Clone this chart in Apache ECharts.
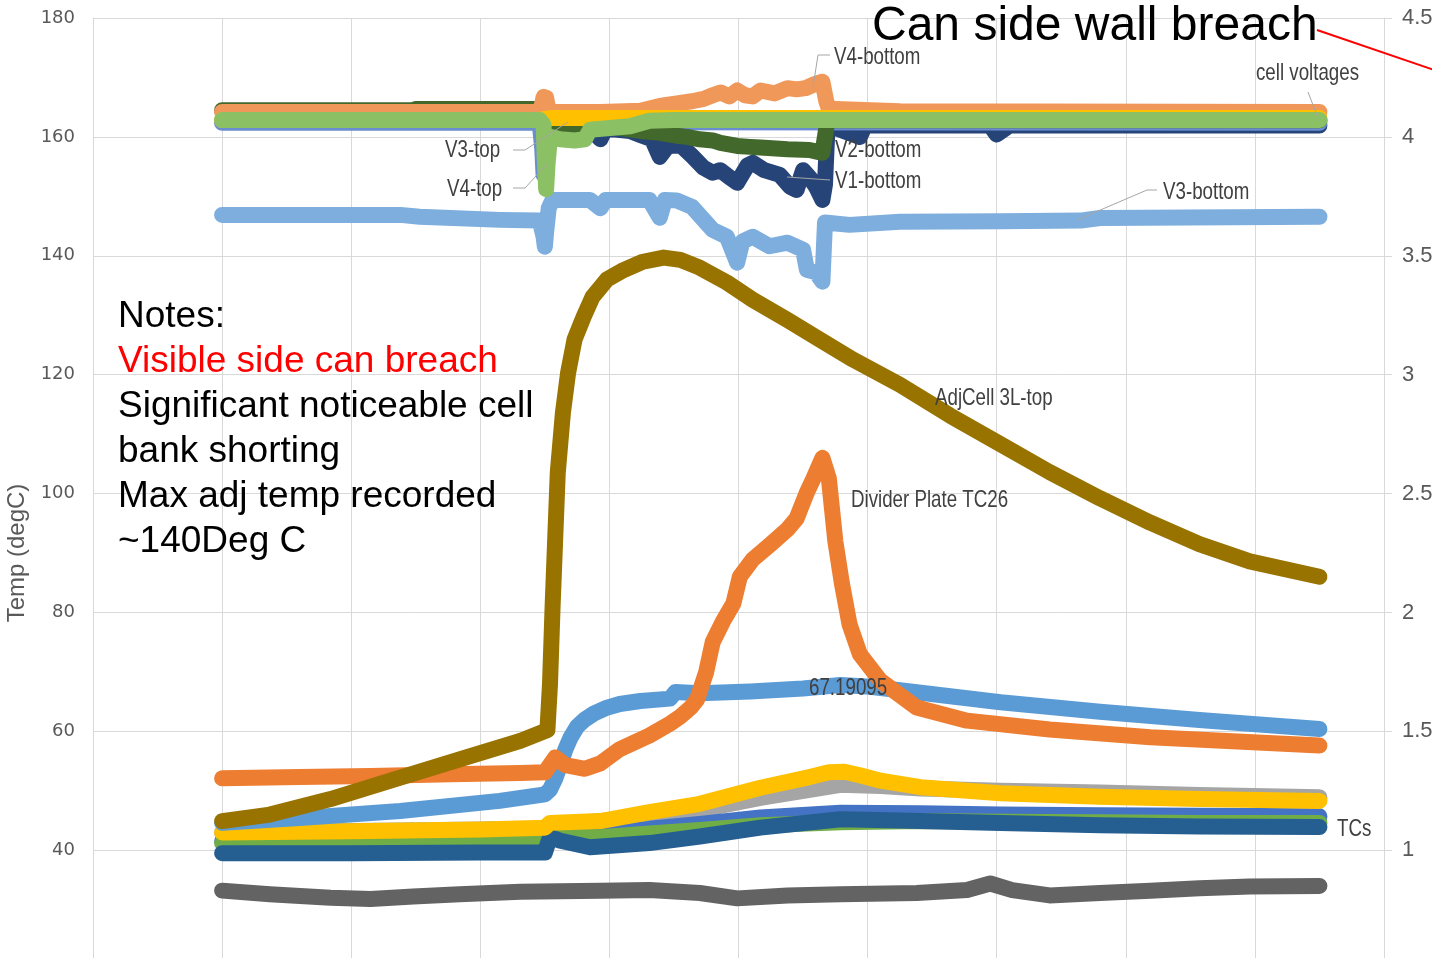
<!DOCTYPE html>
<html>
<head>
<meta charset="utf-8">
<script src="https://cdn.jsdelivr.net/npm/echarts@6/dist/echarts.min.js"></script>
<style>html,body{margin:0;padding:0;background:#fff}#c{width:1432px;height:958px}</style>
</head>
<body>
<div id="c"></div>
<script>
// ---------- tick labels ----------
const tempTicks = [0, 20, 40, 60, 80, 100, 120, 140, 160, 180];
const voltTicks = [0, 0.5, 1, 1.5, 2, 2.5, 3, 3.5, 4, 4.5];

// ---------- temperature series (left axis, degC) : [time, value] ----------
const adjCell3LTop = [[1.00,44.9],[1.37,46.0],[1.84,48.6],[2.38,52.2],[2.84,55.3],[3.31,58.4],[3.52,60.2],[3.54,68.0],[3.56,81.0],[3.58,92.3],[3.60,103.5],[3.64,113.6],[3.68,120.3],[3.73,125.9],[3.80,129.7],[3.87,133.1],[3.98,136.0],[4.11,137.6],[4.26,139.0],[4.42,139.7],[4.55,139.3],[4.70,138.0],[4.91,135.5],[5.11,132.6],[5.38,129.2],[5.63,125.9],[5.89,122.5],[6.25,118.3],[6.64,113.1],[7.03,108.3],[7.41,103.6],[7.80,99.2],[8.19,95.1],[8.57,91.5],[8.96,88.6],[9.50,86.0]];
const dividerPlateTC26 = [[1.00,52.1],[1.60,52.3],[2.15,52.5],[2.77,52.8],[3.31,53.0],[3.50,53.1],[3.58,55.6],[3.66,54.3],[3.81,53.7],[3.93,54.6],[4.08,57.0],[4.31,59.3],[4.47,61.3],[4.55,62.5],[4.63,64.0],[4.68,65.4],[4.75,70.0],[4.80,75.0],[4.88,78.5],[4.96,81.5],[5.01,86.0],[5.11,88.9],[5.25,91.5],[5.38,94.0],[5.45,95.8],[5.53,100.2],[5.58,102.5],[5.65,106.0],[5.70,102.5],[5.75,92.0],[5.80,85.0],[5.86,78.0],[5.94,73.0],[6.10,68.5],[6.38,64.0],[6.77,61.8],[7.41,60.3],[8.19,59.0],[9.50,57.6]];
const tcBlue = [[1.00,44.6],[1.60,45.4],[2.38,46.6],[3.15,48.3],[3.50,49.4],[3.54,50.2],[3.58,52.0],[3.62,54.5],[3.66,57.0],[3.70,59.0],[3.75,60.8],[3.81,62.0],[3.88,63.0],[3.97,63.9],[4.08,64.6],[4.24,65.1],[4.47,65.5],[4.51,66.6],[4.70,66.4],[5.09,66.7],[5.50,67.19095],[5.79,67.8],[6.02,67.5],[6.25,66.9],[6.64,65.9],[7.03,64.9],[7.80,63.3],[8.57,61.9],[9.50,60.4]];
const peakLabelPoint = [5.50, 67.19095];
const tcYellow = [[1.00,43.0],[2.00,43.2],[3.00,43.5],[3.50,43.8],[3.54,44.6],[3.93,44.9],[4.31,46.4],[4.70,47.8],[5.17,50.5],[5.55,52.3],[5.70,53.1],[5.82,53.2],[5.94,52.6],[6.10,51.7],[6.41,50.6],[7.03,49.6],[7.80,49.0],[8.57,48.6],[9.50,48.3]];
const tcGray = [[1.00,43.0],[3.50,43.6],[3.54,44.2],[4.31,45.6],[4.70,46.8],[5.17,48.8],[5.79,51.0],[6.10,50.8],[6.41,50.4],[7.03,50.0],[7.80,49.7],[8.57,49.3],[9.50,48.9]];
const tcMidBlue = [[1.00,41.5],[3.50,41.6],[3.54,42.8],[3.93,42.6],[4.31,43.6],[4.70,44.4],[5.17,45.5],[5.79,46.3],[6.41,46.2],[7.03,46.0],[7.80,45.9],[8.57,45.8],[9.50,45.7]];
const tcGreen = [[1.00,41.2],[3.50,41.4],[3.54,42.3],[3.93,42.2],[4.31,42.8],[4.70,43.4],[5.17,44.2],[5.79,44.7],[6.41,44.9],[7.03,44.8],[7.80,44.7],[8.57,44.6],[9.50,44.6]];
const tcNavy = [[1.00,39.5],[2.00,39.5],[3.00,39.6],[3.50,39.6],[3.54,42.2],[3.62,41.6],[3.85,40.5],[4.31,41.2],[4.70,42.3],[5.17,43.8],[5.79,45.2],[6.25,45.0],[7.03,44.6],[7.80,44.2],[8.57,44.0],[9.50,43.9]];
const tcDarkGray = [[1.00,33.2],[1.37,32.6],[1.84,32.0],[2.15,31.8],[2.48,32.2],[2.84,32.6],[3.31,33.0],[3.93,33.2],[4.31,33.3],[4.70,32.8],[4.99,31.9],[5.38,32.4],[5.79,32.6],[6.38,32.8],[6.77,33.3],[6.95,34.4],[7.12,33.3],[7.41,32.4],[7.80,32.8],[8.19,33.2],[8.57,33.6],[8.96,33.9],[9.50,34.0]];

// ---------- cell voltage series (right axis, V) ----------
const v3Bottom = [[1.00,3.672],[2.38,3.672],[2.53,3.664],[3.15,3.651],[3.46,3.648],[3.49,3.58],[3.50,3.538],[3.51,3.60],[3.53,3.70],[3.56,3.735],[3.85,3.735],[3.93,3.70],[3.97,3.735],[4.31,3.735],[4.39,3.66],[4.43,3.735],[4.52,3.733],[4.64,3.706],[4.80,3.609],[4.91,3.580],[4.99,3.471],[5.03,3.56],[5.11,3.580],[5.24,3.54],[5.38,3.555],[5.50,3.525],[5.53,3.441],[5.60,3.43],[5.65,3.391],[5.67,3.64],[5.86,3.630],[6.25,3.643],[7.03,3.645],[7.65,3.648],[7.80,3.659],[9.50,3.664]];
const v1Bottom = [[1.00,4.066],[3.46,4.066],[3.50,4.00],[3.54,4.04],[3.85,4.035],[3.93,3.99],[3.97,4.035],[4.16,4.025],[4.24,4.008],[4.33,3.99],[4.39,3.916],[4.45,3.96],[4.55,3.966],[4.64,3.92],[4.73,3.87],[4.80,3.849],[4.86,3.86],[4.93,3.83],[4.99,3.807],[5.07,3.88],[5.11,3.891],[5.20,3.86],[5.32,3.84],[5.40,3.79],[5.45,3.777],[5.50,3.86],[5.55,3.83],[5.60,3.79],[5.65,3.735],[5.67,3.80],[5.69,4.05],[5.94,4.00],[5.98,4.048],[6.95,4.048],[7.00,4.01],[7.10,4.048],[9.50,4.048]];
const v3Top = [[1.00,4.059],[3.46,4.059],[3.48,3.95],[3.49,3.84],[3.50,3.92],[3.53,4.075],[3.73,4.075],[3.85,4.062],[9.50,4.059]];
const v2Bottom = [[1.00,4.112],[2.48,4.112],[2.50,4.117],[3.46,4.117],[3.50,4.08],[3.54,4.05],[3.93,4.045],[4.08,4.038],[4.24,4.025],[4.39,4.017],[4.52,4.005],[4.60,4.0],[4.70,3.99],[4.80,3.985],[4.86,3.975],[4.99,3.962],[5.09,3.958],[5.17,3.955],[5.38,3.948],[5.55,3.945],[5.65,3.933],[5.69,4.07],[9.50,4.07]];
const v4Bottom = [[1.00,4.105],[3.46,4.105],[3.48,4.14],[3.49,4.168],[3.51,4.165],[3.53,4.105],[3.93,4.105],[4.24,4.11],[4.39,4.13],[4.55,4.143],[4.64,4.15],[4.73,4.16],[4.80,4.175],[4.86,4.187],[4.93,4.17],[4.99,4.195],[5.05,4.175],[5.11,4.17],[5.17,4.195],[5.28,4.183],[5.38,4.205],[5.45,4.2],[5.52,4.205],[5.59,4.222],[5.65,4.232],[5.68,4.15],[5.70,4.118],[6.25,4.108],[9.50,4.105]];
const vYellow = [[1.00,4.071],[3.46,4.071],[3.50,4.076],[3.54,4.079],[9.50,4.079]];
const v4Top = [[1.00,4.071],[3.46,4.071],[3.49,4.05],[3.50,3.90],[3.51,3.78],[3.52,3.88],[3.54,4.00],[3.62,3.99],[3.73,3.985],[3.81,3.99],[3.85,4.03],[4.16,4.045],[4.31,4.068],[4.50,4.071],[9.50,4.071]];

// ---------- chart ----------
const chart = echarts.init(document.getElementById('c'), null, {renderer: 'canvas'});
const W = 16;
function line(name, data, color, axis) {
  return {
    name: name, type: 'line', data: data, yAxisIndex: axis,
    showSymbol: false, symbol: 'none', animation: false, z: 2,
    lineStyle: {color: color, width: W, cap: 'round', join: 'round'},
    emphasis: {disabled: true}
  };
}

const series = [
  // cell voltages (right axis)
  line('V3-bottom', v3Bottom, '#7DAEDD', 1),
  line('V1-bottom', v1Bottom, '#264478', 1),
  line('V3-top', v3Top, '#6A8DD1', 1),
  line('V2-bottom', v2Bottom, '#43682B', 1),
  line('V4-bottom', v4Bottom, '#F0985A', 1),
  line('V-yellow', vYellow, '#FFC000', 1),
  line('V4-top', v4Top, '#8CC064', 1),
  // temperatures (left axis)
  line('TC dark gray', tcDarkGray, '#636363', 0),
  line('TC gray', tcGray, '#A5A5A5', 0),
  line('TC mid blue', tcMidBlue, '#4472C4', 0),
  line('TC green', tcGreen, '#70AD47', 0),
  line('TC navy', tcNavy, '#255E91', 0),
  line('TC yellow', tcYellow, '#FFC000', 0),
  line('TC blue', tcBlue, '#5B9BD5', 0),
  line('Divider Plate TC26', dividerPlateTC26, '#ED7D31', 0),
  line('AdjCell 3L-top', adjCell3LTop, '#997300', 0)
];

const option = {
  animation: false,
  backgroundColor: '#ffffff',
  grid: {left: 93, top: 18, width: 1291, height: 1070, containLabel: false, outerBoundsMode: 'none'},
  xAxis: {
    type: 'value', min: 0, max: 10, interval: 1,
    axisLine: {show: false}, axisTick: {show: false}, axisLabel: {show: false},
    splitLine: {show: true, lineStyle: {color: '#D9D9D9', width: 1}}
  },
  yAxis: [
    {
      type: 'value', position: 'left', min: tempTicks[0], max: tempTicks[tempTicks.length - 1], interval: 20,
      name: 'Temp (degC)', nameLocation: 'middle', nameGap: 62, nameRotate: 90,
      nameTextStyle: {color: '#595959', fontSize: 24, fontFamily: '"Liberation Sans", Arial, sans-serif'},
      axisLine: {show: true, lineStyle: {color: '#D9D9D9', width: 1}},
      axisTick: {show: false},
      axisLabel: {color: '#595959', fontSize: 18, fontFamily: '"DejaVu Sans", Verdana, sans-serif', margin: 18},
      splitLine: {show: true, lineStyle: {color: '#D9D9D9', width: 1}}
    },
    {
      type: 'value', position: 'right', min: voltTicks[0], max: voltTicks[voltTicks.length - 1], interval: 0.5,
      axisLine: {show: true, lineStyle: {color: '#D9D9D9', width: 1}},
      axisTick: {show: true, length: 8, lineStyle: {color: '#D9D9D9'}},
      axisLabel: {color: '#595959', fontSize: 22, fontFamily: '"Liberation Sans", Arial, sans-serif', margin: 18,
        formatter: function (v) { return String(v); }},
      splitLine: {show: false}
    }
  ],
  series: series
};
chart.setOption(option);

// ---------- annotations ----------
const labelFont = '24px "Liberation Sans", Arial, sans-serif';
const NARROW = 0.78;
function txt(x, y, text, font, fill, sx) {
  return {type: 'text', x: x, y: y, z: 100, silent: true, scaleX: sx || 1,
    style: {text: text, font: font, fill: fill, align: 'left', verticalAlign: 'middle',
      textAlign: 'left', textVerticalAlign: 'middle'}};
}
function lab(x, y, text) { return txt(x, y, text, labelFont, '#404040', NARROW); }
function leader(points) {
  return {type: 'polyline', z: 99, silent: true, shape: {points: points},
    style: {stroke: '#A6A6A6', lineWidth: 1, fill: null}};
}
const nf = '37px "Liberation Sans", Arial, sans-serif';
const peakPx = chart.convertToPixel({xAxisIndex: 0, yAxisIndex: 0}, peakLabelPoint);

chart.setOption({
  graphic: [
    txt(872, 27, 'Can side wall breach', '48px "Liberation Sans", Arial, sans-serif', '#000000'),
    {type: 'line', z: 100, silent: true, shape: {x1: 1317, y1: 30, x2: 1440, y2: 72},
      style: {stroke: '#FF0000', lineWidth: 2}},
    txt(118, 317, 'Notes:', nf, '#000000'),
    txt(118, 362, 'Visible side can breach', nf, '#FF0000'),
    txt(118, 407, 'Significant noticeable cell', nf, '#000000'),
    txt(118, 452, 'bank shorting', nf, '#000000'),
    txt(118, 497, 'Max adj temp recorded', nf, '#000000'),
    txt(118, 542, '~140Deg C', nf, '#000000'),
    // data label at the blue TC point
    lab(peakPx[0] + 6, peakPx[1], String(peakLabelPoint[1])),
    // series labels
    lab(834, 57, 'V4-bottom'),
    leader([[830, 55], [818, 55], [813, 87]]),
    lab(1256, 73, 'cell voltages'),
    leader([[1308, 92], [1318, 118]]),
    lab(445, 150, 'V3-top'),
    leader([[513, 150], [525, 150], [568, 122]]),
    lab(447, 189, 'V4-top'),
    leader([[513, 188], [525, 188], [547, 164]]),
    lab(835, 150, 'V2-bottom'),
    lab(835, 181, 'V1-bottom'),
    leader([[830, 180], [787, 177]]),
    lab(1163, 192, 'V3-bottom'),
    leader([[1157, 190], [1147, 190], [1077, 220]]),
    lab(935, 398, 'AdjCell 3L-top'),
    lab(851, 500, 'Divider Plate TC26'),
    lab(1337, 829, 'TCs')
  ]
});
</script>
</body>
</html>
